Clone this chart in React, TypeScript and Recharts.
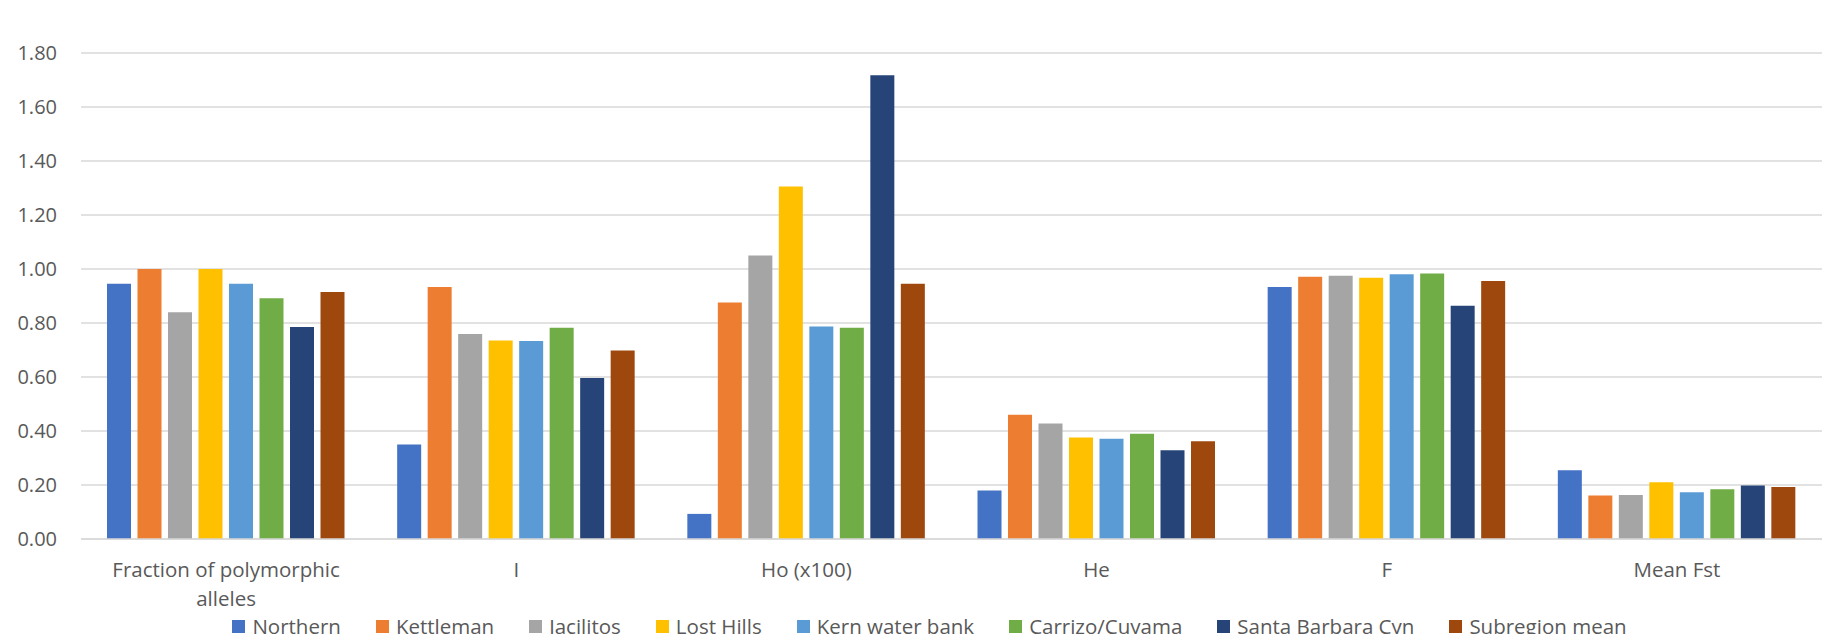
import { BarChart, Bar, XAxis, YAxis, CartesianGrid, Legend } from 'recharts'

// Population genetics summary statistics by subregion
const CATEGORIES = ['Fraction of polymorphic alleles', 'I', 'Ho (x100)', 'He', 'F', 'Mean Fst']

const NORTHERN = [0.945, 0.35, 0.093, 0.18, 0.933, 0.255]
const KETTLEMAN = [1.0, 0.933, 0.876, 0.46, 0.971, 0.161]
const JACILITOS = [0.84, 0.759, 1.05, 0.428, 0.975, 0.163]
const LOST_HILLS = [1.0, 0.735, 1.306, 0.376, 0.968, 0.21]
const KERN_WATER_BANK = [0.945, 0.733, 0.787, 0.371, 0.981, 0.173]
const CARRIZO_CUYAMA = [0.892, 0.782, 0.782, 0.39, 0.983, 0.184]
const SANTA_BARBARA_CYN = [0.785, 0.596, 1.718, 0.329, 0.864, 0.198]
const SUBREGION_MEAN = [0.915, 0.698, 0.945, 0.362, 0.956, 0.193]

const Y_TICKS = [0, 0.2, 0.4, 0.6, 0.8, 1.0, 1.2, 1.4, 1.6, 1.8]

const SERIES = [
  { key: 'northern', name: 'Northern', color: '#4472C4', values: NORTHERN },
  { key: 'kettleman', name: 'Kettleman', color: '#ED7D31', values: KETTLEMAN },
  { key: 'jacilitos', name: 'Jacilitos', color: '#A5A5A5', values: JACILITOS },
  { key: 'lostHills', name: 'Lost Hills', color: '#FFC000', values: LOST_HILLS },
  { key: 'kern', name: 'Kern water bank', color: '#5B9BD5', values: KERN_WATER_BANK },
  { key: 'carrizo', name: 'Carrizo/Cuyama', color: '#70AD47', values: CARRIZO_CUYAMA },
  { key: 'santaBarbara', name: 'Santa Barbara Cyn', color: '#264478', values: SANTA_BARBARA_CYN },
  { key: 'subregionMean', name: 'Subregion mean', color: '#9E480E', values: SUBREGION_MEAN },
]

const data = CATEGORIES.map((category, i) => {
  const row: Record<string, string | number> = { category }
  SERIES.forEach((s) => {
    row[s.key] = s.values[i]
  })
  return row
})

const FONT = "'Open Sans', sans-serif"
const FONT_SIZE = 20
const LABEL_SIZE = 20.5
const TEXT = '#595959'
const GRID = '#D9D9D9'

// greedy word wrap so long names fit under their group of bars
function wrapLabel(label: string, maxChars = 24): string[] {
  const lines: string[] = []
  let line = ''
  label.split(' ').forEach((word) => {
    const next = line ? `${line} ${word}` : word
    if (next.length > maxChars && line) {
      lines.push(line)
      line = word
    } else {
      line = next
    }
  })
  if (line) lines.push(line)
  return lines
}

function CategoryTick({ x, y, payload }: any) {
  const lines = wrapLabel(String(payload.value))
  return (
    <text x={x} y={y} textAnchor="middle" fill={TEXT} fontSize={LABEL_SIZE} fontFamily={FONT}>
      {lines.map((line, i) => (
        <tspan key={i} x={x} dy={i === 0 ? '0.71em' : 29.5}>
          {line}
        </tspan>
      ))}
    </text>
  )
}

// keep legend entries in series order rather than alphabetical
function LegendRow({ payload }: any) {
  const order = SERIES.map((s) => s.name)
  const items = [...(payload || [])].sort((a: any, b: any) => order.indexOf(a.value) - order.indexOf(b.value))
  return (
    <div
      style={{
        display: 'flex',
        justifyContent: 'center',
        gap: 35,
        paddingLeft: 14,
        height: 30,
        lineHeight: '30px',
        fontFamily: FONT,
        fontSize: LABEL_SIZE,
        color: TEXT,
      }}
    >
      {items.map((p: any) => (
        <div key={p.value} style={{ display: 'flex', alignItems: 'center' }}>
          <span style={{ width: 13, height: 13, background: p.color, marginRight: 7 }} />
          <span>{p.value}</span>
        </div>
      ))}
    </div>
  )
}

export default function App() {
  return (
    <div style={{ position: 'relative', margin: -8, width: 1845, height: 642, overflow: 'hidden', background: '#fff' }}>
      <div
        style={{
          position: 'absolute',
          left: 2,
          top: 7,
          width: 1860,
          height: 660,
          border: `1px solid ${GRID}`,
        }}
      />
      <BarChart
        width={1845}
        height={642}
        data={data}
        margin={{ top: 53, right: 23, bottom: 0, left: 0 }}
        barSize={24}
        barGap={6.5}
      >
        <CartesianGrid vertical={false} stroke={GRID} strokeWidth={1.5} />
        <XAxis
          dataKey="category"
          height={103}
          axisLine={{ stroke: GRID, strokeWidth: 1.5 }}
          tickLine={false}
          tickSize={0}
          tickMargin={23}
          interval={0}
          tick={(props: any) => <CategoryTick {...props} />}
        />
        <YAxis
          width={81}
          domain={[0, 1.8]}
          ticks={Y_TICKS}
          interval={0}
          axisLine={false}
          tickLine={false}
          tickSize={0}
          tickMargin={24}
          tickFormatter={(v: number) => v.toFixed(2)}
          tick={{ fill: TEXT, fontSize: FONT_SIZE, fontFamily: FONT }}
        />
        <Legend
          layout="horizontal"
          verticalAlign="middle"
          align="center"
          content={<LegendRow />}
          wrapperStyle={{ top: 611, left: 0, width: 1845, height: 30 }}
        />
        {SERIES.map((s) => (
          <Bar key={s.key} dataKey={s.key} name={s.name} fill={s.color} isAnimationActive={false} />
        ))}
      </BarChart>
    </div>
  )
}
